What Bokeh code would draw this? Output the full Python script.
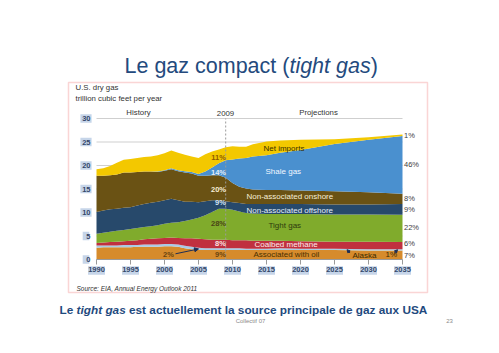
from bokeh.plotting import figure
from bokeh.models import (ColumnDataSource, Range1d, FixedTicker, Label,
                          BoxAnnotation, Arrow, NormalHead)
from bokeh.embed import file_html
from bokeh.resources import INLINE

# ---------------- data (trillion cubic feet per year) ----------------
years = [1990, 1991, 1992, 1993, 1994, 1995, 1996, 1997, 1998, 1999,
         2000, 2001, 2002, 2003, 2004, 2005, 2006, 2007, 2008, 2009,
         2010, 2011, 2012, 2013, 2015, 2017, 2020, 2025, 2030, 2035]
assoc_oil = [2.5, 2.6, 2.6, 2.6, 2.6, 2.6, 2.7, 2.7, 2.7, 2.7,
             2.8, 2.8, 2.7, 2.4, 2.2, 2.0, 2.0, 2.0, 2.0, 2.0,
             2.0, 2.0, 2.0, 2.0, 2.0, 2.0, 2.0, 2.0, 1.9, 1.9]
alaska = [0.5, 0.4, 0.4, 0.4, 0.5, 0.5, 0.4, 0.5, 0.5, 0.5,
          0.5, 0.5, 0.5, 0.5, 0.5, 0.5, 0.4, 0.4, 0.4, 0.4,
          0.4, 0.4, 0.3, 0.3, 0.3, 0.4, 0.3, 0.3, 0.3, 0.3]
coalbed = [0.5, 0.6, 0.7, 0.8, 0.8, 0.9, 1.0, 1.1, 1.2, 1.3,
           1.3, 1.4, 1.4, 1.6, 1.8, 1.9, 1.9, 1.8, 1.8, 1.8,
           1.7, 1.7, 1.8, 1.7, 1.7, 1.6, 1.6, 1.5, 1.6, 1.5]
tight = [2.0, 2.1, 2.2, 2.3, 2.4, 2.5, 2.6, 2.6, 2.7, 2.8,
         3.0, 3.1, 3.3, 3.7, 4.0, 4.5, 5.1, 5.9, 6.6, 6.6,
         6.5, 6.1, 5.8, 5.8, 5.7, 5.7, 5.8, 5.8, 5.8, 5.8]
offshore = [4.6, 4.7, 4.8, 4.7, 4.7, 4.6, 4.8, 4.9, 5.0, 5.0,
            5.0, 5.1, 4.7, 4.1, 3.8, 3.3, 3.0, 2.5, 1.8, 1.6,
            1.6, 1.8, 1.9, 2.0, 2.1, 2.1, 2.1, 2.1, 2.1, 2.3]
onshore = [7.7, 7.4, 7.2, 7.3, 7.5, 7.4, 7.1, 6.9, 6.6, 6.3,
           6.3, 6.3, 6.2, 6.2, 6.0, 5.6, 5.4, 5.3, 5.3, 5.0,
           4.1, 3.5, 3.3, 3.1, 3.0, 3.0, 2.9, 2.8, 2.6, 2.2]
shale = [0.0, 0.0, 0.0, 0.0, 0.0, 0.0, 0.0, 0.0, 0.0, 0.1,
         0.1, 0.2, 0.2, 0.3, 0.3, 0.4, 0.9, 1.7, 2.6, 3.7,
         5.0, 6.0, 6.5, 7.0, 7.4, 7.9, 8.6, 10.1, 11.2, 12.3]
net_imports = [1.4, 1.6, 2.0, 2.5, 2.7, 2.9, 3.0, 3.1, 3.2, 3.5,
               3.6, 3.8, 3.7, 3.5, 3.3, 3.4, 3.7, 3.4, 2.9, 2.8,
               2.8, 2.5, 2.4, 2.6, 2.9, 2.6, 2.2, 1.0, 0.5, 0.3]

series_names = ["assoc_oil", "alaska", "coalbed", "tight", "offshore",
                "onshore", "shale", "net_imports"]
series_colors = ["#D68B2C", "#A8CCE6", "#C0303F", "#80AB2C", "#27496B",
                 "#6A5214", "#4A90CF", "#F3C800"]

pct_2009 = ["11%", "14%", "20%", "9%", "28%", "8%", "9%"]
pct_2035 = ["1%", "46%", "8%", "9%", "22%", "6%", "7%"]
x_ticks = [1990, 1995, 2000, 2005, 2010, 2015, 2020, 2025, 2030, 2035]
y_ticks = [0, 5, 10, 15, 20, 25, 30]

# ---------------- layout ----------------
W, H = 499, 353
FL, FR, FT, FB = 96, 402, 118, 259          # chart area edges (pixels)
X0, X1, Y0, Y1 = 1990, 2035, 0, 30
FONT = "Liberation Sans"


def xd(px):
    return X0 + (px - FL) * (X1 - X0) / (FR - FL)


def yd(py):
    return Y0 + (FB - py) * (Y1 - Y0) / (FB - FT)


p = figure(width=W, height=H, x_range=Range1d(xd(0), xd(W)),
           y_range=Range1d(yd(H), yd(0)),
           output_backend="svg", toolbar_location=None,
           min_border_left=0, min_border_right=0,
           min_border_top=0, min_border_bottom=0)
p.outline_line_color = None
p.background_fill_color = "white"
p.border_fill_color = "white"
p.xgrid.grid_line_color = None
p.ygrid.grid_line_color = None

# red frame around the chart
p.add_layout(BoxAnnotation(left=xd(68), right=xd(427), top=yd(82), bottom=yd(292),
                           fill_color=None, line_color="#EE7474", line_width=1.5,
                           level="underlay"))

# horizontal gridlines across the chart only
p.segment(x0=[X0] * len(y_ticks), x1=[X1] * len(y_ticks), y0=y_ticks, y1=y_ticks,
          line_color="#CFCFCF", line_width=1, level="underlay")

data = dict(year=years, assoc_oil=assoc_oil, alaska=alaska, coalbed=coalbed,
            tight=tight, offshore=offshore, onshore=onshore, shale=shale,
            net_imports=net_imports)
src = ColumnDataSource(data)
p.varea_stack(stackers=series_names, x="year", color=series_colors, source=src)

# 2009 divider
p.segment(x0=[2009], x1=[2009], y0=[Y0], y1=[Y1], line_color="#9A9A9A",
          line_dash="2 2", line_width=1)

# tick-label highlight boxes
p.rect(x=x_ticks, y=[yd(270)] * len(x_ticks), width=17, height=8.5,
       width_units="screen", height_units="screen", fill_color="#C6D5E9",
       line_color=None, level="underlay")
p.rect(x=[xd(85.5)] * len(y_ticks), y=y_ticks,
       width=[4.6 * len(str(t)) + 2 for t in y_ticks], height=8.5,
       width_units="screen", height_units="screen", fill_color="#C6D5E9",
       line_color=None, level="underlay")

# axes placed at the chart edges
p.xaxis.fixed_location = Y0
p.yaxis.fixed_location = X0
p.xaxis.bounds = (X0, X1)
p.yaxis.bounds = (Y0, Y1)
p.xaxis.ticker = FixedTicker(ticks=x_ticks)
p.yaxis.ticker = FixedTicker(ticks=y_ticks)
p.xaxis.minor_tick_line_color = None
p.yaxis.minor_tick_line_color = None
p.xaxis.axis_line_color = "#9A9A9A"
p.xaxis.major_tick_line_color = "#9A9A9A"
p.xaxis.major_tick_out = 5
p.xaxis.major_tick_in = 0
p.xaxis.major_label_standoff = 2
p.yaxis.axis_line_color = None
p.yaxis.major_tick_line_color = None
p.yaxis.major_tick_out = 0
p.yaxis.major_tick_in = 0
p.yaxis.major_label_standoff = 6
for ax in (p.xaxis, p.yaxis):
    ax.major_label_text_font = FONT
    ax.major_label_text_font_size = "7.5px"
    ax.major_label_text_font_style = "bold"
    ax.major_label_text_color = "#34476A"


def lab(px, py, text, size, color, style="normal", align="left",
        baseline="middle"):
    p.add_layout(Label(x=xd(px), y=yd(py), text=text, text_font=FONT,
                       text_font_size=f"{size}px", text_color=color,
                       text_font_style=style, text_align=align,
                       text_baseline=baseline))


# slide title
TS = 21.5
lab(124, 65, "Le gaz compact (", TS, "#244A7D", baseline="alphabetic")
lab(124 + 7.67 * TS, 65, "tight gas", TS, "#244A7D", style="italic", baseline="alphabetic")
lab(124 + 11.45 * TS, 65, ")", TS, "#244A7D", baseline="alphabetic")

# chart texts
lab(75, 87, "U.S. dry gas", 7.8, "#333333")
lab(75, 98, "trillion cubic feet per year", 7.8, "#333333")
lab(138, 112, "History", 7.8, "#333333", align="center")
lab(225, 113, "2009", 7.8, "#333333", align="center")
lab(318, 112, "Projections", 7.8, "#333333", align="center")
lab(76, 288, "Source:  EIA, Annual Energy Outlook 2011", 6.5, "#333333", style="italic")

# series labels in the projection area
lab(263, 147.5, "Net imports", 8, "#3A3000")
lab(265, 171, "Shale gas", 8, "#F2F7FF")
lab(246, 196, "Non-associated onshore", 8, "#F6EED6")
lab(246, 209.5, "Non-associated offshore", 8, "#E4EEF8")
lab(268, 224.5, "Tight gas", 8, "#2E3A0E")
lab(254, 243.5, "Coalbed methane", 8, "#FDEBEB")
lab(253, 253.5, "Associated with oil", 8, "#4A3000")
lab(352, 254.5, "Alaska", 8, "#3A2A00")
lab(385, 253.5, "1%", 8, "#3A2A00")

# 2009 shares
pct_2009_px = [(218, 156.5), (218, 172), (218, 188.5), (220, 201.5),
               (218, 222.5), (220, 243.3), (220, 254)]
pct_2009_col = ["#8E5A00", "#E2EEFA", "#F6EED6", "#D6E6F6", "#4A4416",
                "#FBE3E3", "#6A4410"]
for (px, py), t, c in zip(pct_2009_px, pct_2009, pct_2009_col):
    lab(px, py, t, 7.5, c, style="bold", align="center")
lab(168, 254, "2%", 7.5, "#6A4410", style="bold", align="center")
i05 = years.index(2005)
p.add_layout(Arrow(end=NormalHead(size=4, fill_color="#1E2E55", line_color="#1E2E55"),
                   x_start=xd(175), y_start=yd(253.3), x_end=2005,
                   y_end=assoc_oil[i05] + alaska[i05] / 2,
                   line_color="#1E2E55", line_width=1))

# 2035 shares
pct_2035_py = [135, 164.3, 198.3, 209, 227.3, 243.3, 255]
for py, t in zip(pct_2035_py, pct_2035):
    lab(403.5, py, t, 7.5, "#404040")

# Alaska pointers
for (x0, y0, x1, y1) in [(349.5, 252.5, 346.5, 249.2), (394, 252.5, 397, 249.2)]:
    p.add_layout(Arrow(end=NormalHead(size=3, fill_color="#1E2E55", line_color="#1E2E55"),
                       x_start=xd(x0), y_start=yd(y0), x_end=xd(x1), y_end=yd(y1),
                       line_color="#1E2E55", line_width=1))

# caption and footer
CS = 11.8
lab(59, 309, "Le", CS, "#1F4A7E", style="bold", baseline="alphabetic")
lab(59 + 1.445 * CS, 309, "tight gas", CS, "#1F4A7E", style="bold italic", baseline="alphabetic")
lab(59 + 5.89 * CS, 309, "est actuellement la source principale de gaz aux USA", CS,
    "#1F4A7E", style="bold", baseline="alphabetic")
lab(250, 320.5, "Collectif 07", 6, "#8A8A8A", align="center")
lab(449, 320.5, "23", 6, "#8A8A8A", align="center")

open("out.html", "w").write(file_html(p, INLINE))
